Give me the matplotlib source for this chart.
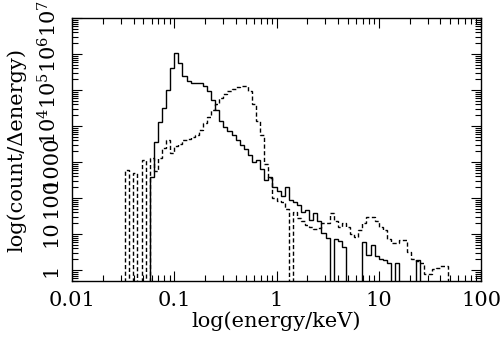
import numpy as np
import matplotlib
matplotlib.use("Agg")
import matplotlib.pyplot as plt
from matplotlib.ticker import FixedLocator, LogLocator, NullFormatter

plt.rcParams['font.family'] = ['DejaVu Serif']
plt.rcParams['mathtext.fontset'] = 'dejavuserif'

# log10(energy/keV) bin edges: 0.04 dex bins from -1.52 to 1.72
log_edge_start = -1.52
log_edge_step = 0.04
n_bins = 81

# log10(count/Δenergy) per bin; None = empty bin
solid_log = [None, None, None, None, None, None, None, 2.58, 3.55, 4.1,
             4.5, 5.0, 5.6, 6.03, 5.75, 5.4, 5.26, 5.19, 5.2, 5.2,
             5.12, 4.97, 4.72, 4.45, 4.15, 3.96, 3.87, 3.75, 3.6, 3.47,
             3.37, 3.2, 3.0, 3.05, 2.8, 2.5, 2.58, 2.3, 2.2, 2.05,
             2.3, 1.94, 1.9, 1.8, 1.6, 1.67, 1.4, 1.58, 1.35, 1.03,
             0.9, None, 0.85, 0.8, 0.65, None, None, None, None, 0.78,
             0.42, 0.7, 0.4, 0.3, 0.28, 0.2, None, 0.2, None, None,
             None, None, 0.28, None, None, None, None, None, None, None,
             None]

dashed_log = [None, 2.78, None, 2.7, None, 3.05, None, 3.1, 2.75, 3.1,
              3.4, 3.6, 3.25, 3.45, 3.5, 3.6, 3.65, 3.7, 3.75, 3.89,
              4.08, 4.25, 4.44, 4.6, 4.77, 4.88, 4.97, 5.03, 5.08, 5.11,
              5.11, 4.98, 4.6, 4.15, 3.75, 2.95, 2.55, 2.0, 1.92, 1.88,
              1.7, None, 1.6, 1.45, 1.35, 1.25, 1.2, 1.15, 1.18, 1.3,
              1.3, 1.58, 1.35, 1.2, 1.3, 1.2, 1.0, 0.92, 1.1, 1.3,
              1.47, 1.47, 1.35, 1.2, 1.1, 0.85, 0.75, 0.75, 0.83, 0.83,
              0.5, 0.3, 0.25, 0.2, -0.1, -0.1, 0.02, 0.05, 0.1, 0.1,
              None]

x_ticks = [0.01, 0.1, 1, 10, 100]
x_ticklabels = ['0.01', '0.1', '1', '10', '100']
y_ticks = [1, 10, 100, 1000, 1e4, 1e5, 1e6, 1e7]
y_ticklabels = ['1', '10', '100', '1000', r'$10^4$', r'$10^5$', r'$10^6$', r'$10^7$']

edges = 10 ** (log_edge_start + log_edge_step * np.arange(n_bins + 1))
floor = 1e-3
solid = np.array([10 ** v if v is not None else floor for v in solid_log])
dashed = np.array([10 ** v if v is not None else floor for v in dashed_log])

fig = plt.figure(figsize=(5.0, 3.41), dpi=100)
ax = fig.add_axes([0.144, 0.1745, 0.818, 0.7725])
ax.stairs(solid, edges, baseline=None, color='black', lw=1.0)
ax.stairs(dashed, edges, baseline=None, color='black', lw=1.0,
          linestyle=(0, (3, 1.8)))

ax.set_xscale('log')
ax.set_yscale('log')
ax.set_xlim(0.01, 100)
ax.set_ylim(0.48, 1e7)

ax.xaxis.set_major_locator(FixedLocator(x_ticks))
ax.set_xticklabels(x_ticklabels)
ax.xaxis.set_minor_locator(LogLocator(base=10, subs=np.arange(2, 10), numticks=20))
ax.xaxis.set_minor_formatter(NullFormatter())
ax.yaxis.set_major_locator(FixedLocator(y_ticks))
ax.set_yticklabels(y_ticklabels)
ax.yaxis.set_minor_locator(LogLocator(base=10, subs=np.arange(2, 10), numticks=20))
ax.yaxis.set_minor_formatter(NullFormatter())

ax.tick_params(which='both', direction='in', top=True, right=True, width=0.8, color='black')
ax.tick_params(which='major', length=7)
ax.tick_params(which='minor', length=4)
ax.tick_params(axis='x', labelsize=15, pad=7)
ax.tick_params(axis='y', labelsize=15, pad=8)
for lab in ax.get_yticklabels():
    lab.set_rotation(90)
    lab.set_va('center')
    lab.set_ha('right')
for s in ax.spines.values():
    s.set_linewidth(1.0)

ax.set_xlabel('log(energy/keV)', fontsize=15, labelpad=1)
ax.set_ylabel('log(count/Δenergy)', fontsize=15, labelpad=8)

fig.savefig('out.png', dpi=100)
